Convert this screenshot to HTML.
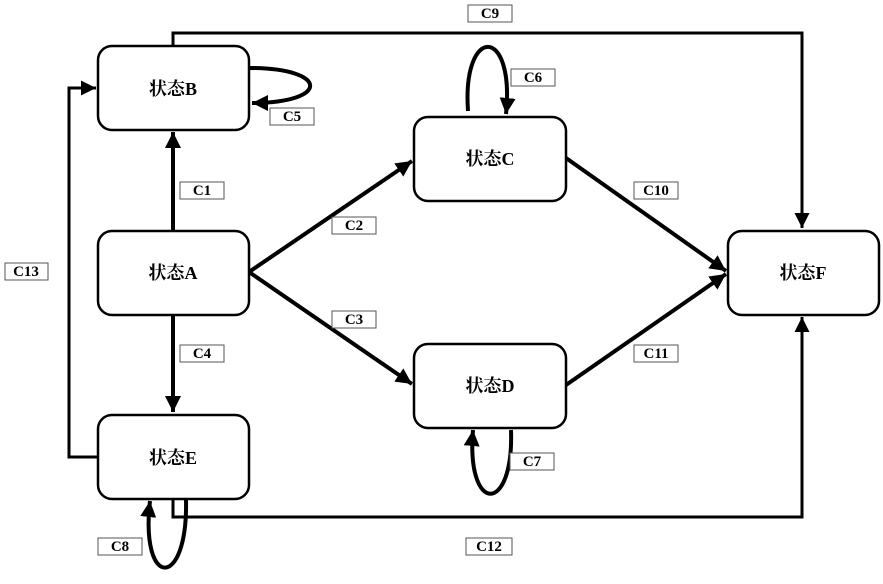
<!DOCTYPE html>
<html><head><meta charset="utf-8"><style>
html,body{margin:0;padding:0;background:#fff;}
svg{display:block;}
.box{fill:#fff;stroke:#000;stroke-width:2.5;}
.n{font-family:"Liberation Serif","Noto Serif CJK SC","Noto Sans CJK SC",serif;font-weight:bold;font-size:18px;text-anchor:middle;dominant-baseline:central;}
.lb{fill:#fff;stroke:#555;stroke-width:1;}
.lt{font-family:"Liberation Serif",serif;font-weight:bold;font-size:15px;text-anchor:middle;dominant-baseline:central;}
.w{fill:none;stroke:#000;stroke-width:3;}
.t{fill:none;stroke:#000;stroke-width:4;}
.l{fill:none;stroke:#000;stroke-width:4;}
</style></head><body>
<svg width="883" height="584" viewBox="0 0 883 584">
<defs>
<marker id="a" viewBox="0 0 10 10" refX="10" refY="5" markerWidth="4" markerHeight="4" orient="auto" markerUnits="strokeWidth"><path d="M0,0 L10,5 L0,10 z" fill="#000"/></marker>
<marker id="b" viewBox="0 0 10 10" refX="10" refY="5" markerWidth="5" markerHeight="5" orient="auto" markerUnits="strokeWidth"><path d="M0,0 L10,5 L0,10 z" fill="#000"/></marker>
</defs>
<path class="w" d="M173,46 V33 H802 V228" marker-end="url(#b)"/>
<path class="w" d="M173,499 V517 H802 V317" marker-end="url(#b)"/>
<path class="w" d="M98,457 H69 V88 H96" marker-end="url(#b)"/>
<path class="t" d="M173,230 V132" marker-end="url(#a)"/>
<path class="t" d="M173,315 V412" marker-end="url(#a)"/>
<path class="t" d="M249,272 L412,161" marker-end="url(#a)"/>
<path class="t" d="M249,272 L412,384" marker-end="url(#a)"/>
<path class="t" d="M566,158 L726,271" marker-end="url(#a)"/>
<path class="t" d="M566,385 L726,274" marker-end="url(#a)"/>
<path class="l" d="M249,68 C330,68 330,103 252,103" marker-end="url(#a)"/>
<path class="l" d="M468,111 C462,25 515,25 506,114" marker-end="url(#a)"/>
<path class="l" d="M511,430 C514,515 466,515 473,430" marker-end="url(#a)"/>
<path class="l" d="M186,500 C188,590 140,590 150,501" marker-end="url(#a)"/>
<rect class="box" x="98" y="46" width="151" height="84" rx="14"/>
<rect class="box" x="98" y="231" width="151" height="84" rx="14"/>
<rect class="box" x="98" y="415" width="151" height="84" rx="14"/>
<rect class="box" x="414" y="117" width="152" height="84" rx="14"/>
<rect class="box" x="414" y="344" width="152" height="84" rx="14"/>
<rect class="box" x="728" y="231" width="151" height="84" rx="14"/>
<text class="n" x="173" y="89">状态B</text>
<text class="n" x="173" y="273">状态A</text>
<text class="n" x="173" y="458">状态E</text>
<text class="n" x="490" y="159">状态C</text>
<text class="n" x="490" y="386">状态D</text>
<text class="n" x="803" y="273">状态F</text>
<g>
<rect class="lb" x="468" y="5" width="44" height="17"/><text class="lt" x="490" y="14">C9</text>
<rect class="lb" x="270" y="108" width="44" height="17"/><text class="lt" x="292" y="117">C5</text>
<rect class="lb" x="511" y="69" width="44" height="17"/><text class="lt" x="533" y="78">C6</text>
<rect class="lb" x="180" y="182" width="44" height="17"/><text class="lt" x="202" y="191">C1</text>
<rect class="lb" x="332" y="217" width="44" height="17"/><text class="lt" x="354" y="226">C2</text>
<rect class="lb" x="332" y="311" width="44" height="17"/><text class="lt" x="354" y="320">C3</text>
<rect class="lb" x="180" y="345" width="44" height="17"/><text class="lt" x="202" y="354">C4</text>
<rect class="lb" x="634" y="182" width="44" height="17"/><text class="lt" x="656" y="191">C10</text>
<rect class="lb" x="634" y="345" width="44" height="17"/><text class="lt" x="656" y="354">C11</text>
<rect class="lb" x="510" y="453" width="44" height="17"/><text class="lt" x="532" y="462">C7</text>
<rect class="lb" x="98" y="538" width="44" height="17"/><text class="lt" x="120" y="547">C8</text>
<rect class="lb" x="466" y="538" width="46" height="17"/><text class="lt" x="489" y="547">C12</text>
<rect class="lb" x="5" y="263" width="43" height="17"/><text class="lt" x="26" y="272">C13</text>
</g>
</svg>
</body></html>
